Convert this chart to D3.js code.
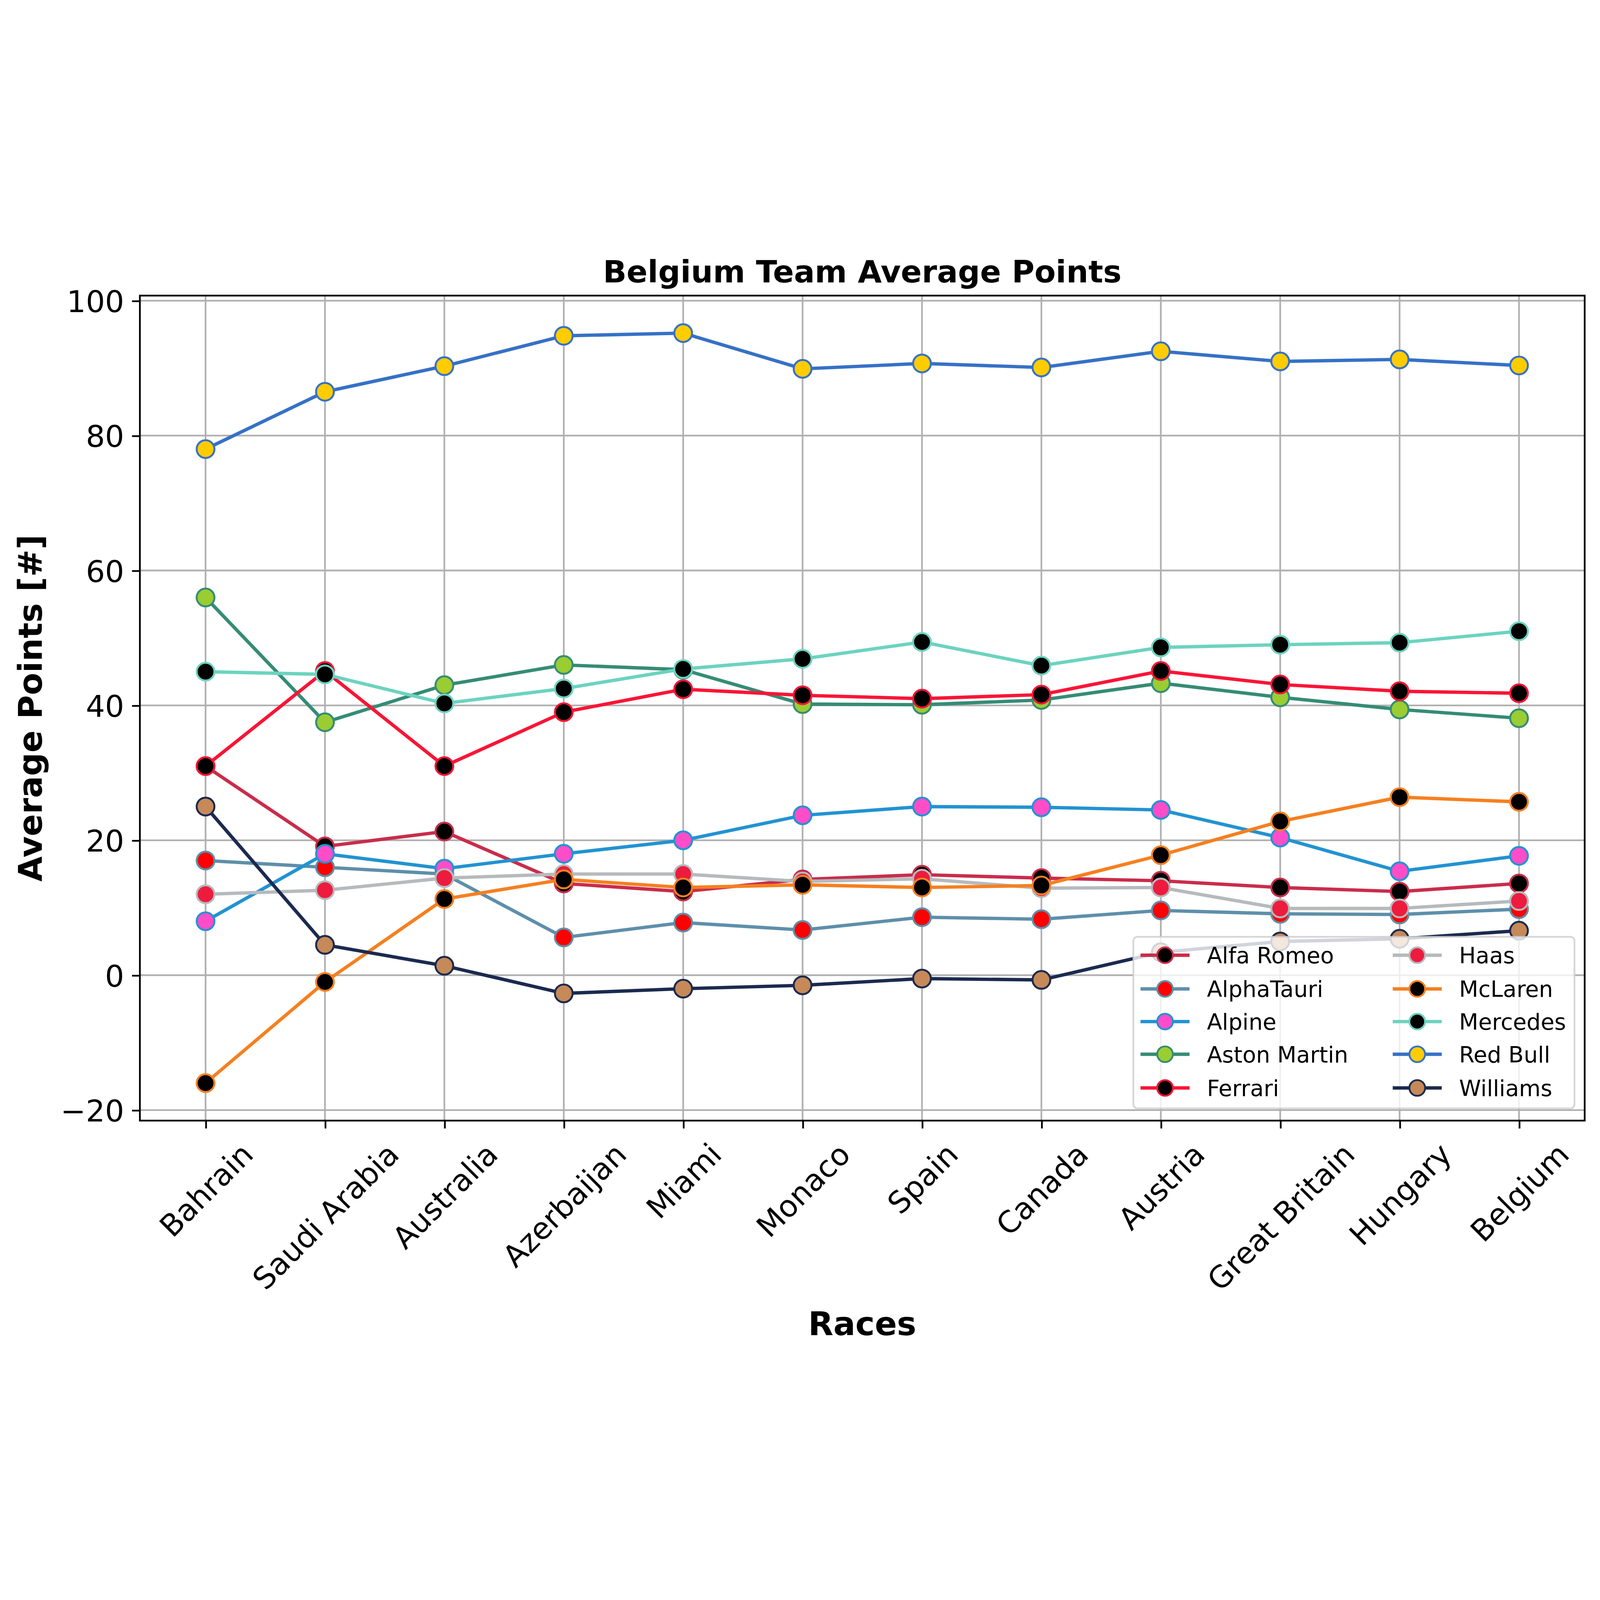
<!DOCTYPE html>
<html>
<head>
<meta charset="utf-8">
<script src="https://d3js.org/d3.v7.min.js"></script>
<style>
  html, body { margin: 0; padding: 0; background: #fff; width: 100%; height: 100%; overflow: hidden; }
  #chart { display: block; width: 100vw; height: 100vh; }
  text { font-family: 'DejaVu Sans', sans-serif; }
</style>
</head>
<body>
<svg id="chart"></svg>
<script>
// data
const races = ['Bahrain', 'Saudi Arabia', 'Australia', 'Azerbaijan', 'Miami', 'Monaco',
               'Spain', 'Canada', 'Austria', 'Great Britain', 'Hungary', 'Belgium'];
const teams = ['Alfa Romeo', 'AlphaTauri', 'Alpine', 'Aston Martin', 'Ferrari',
               'Haas', 'McLaren', 'Mercedes', 'Red Bull', 'Williams'];
const lineColors = ['#C92D4B', '#5E8FAA', '#2293D1', '#358C75', '#F91536',
                    '#B6BABD', '#F58020', '#6CD3BF', '#3671C6', '#1B2A4F'];
const fillColors = ['#000000', '#FF0000', '#FF4DC9', '#9ACD32', '#000000',
                    '#ED1C3E', '#000000', '#000000', '#FFCC00', '#C68958'];

const alfaRomeo   = [31.0, 19.1, 21.3, 13.6, 12.4, 14.2, 14.9, 14.4, 14.0, 13.0, 12.4, 13.6];
const alphaTauri  = [17.0, 16.0, 15.0, 5.6, 7.8, 6.7, 8.6, 8.3, 9.6, 9.1, 9.0, 9.8];
const alpine      = [8.0, 18.0, 15.8, 18.0, 20.0, 23.7, 25.0, 24.9, 24.5, 20.4, 15.4, 17.7];
const astonMartin = [56.0, 37.5, 43.0, 46.0, 45.3, 40.2, 40.1, 40.8, 43.3, 41.2, 39.4, 38.1];
const ferrari     = [31.0, 45.1, 31.0, 39.0, 42.4, 41.5, 41.0, 41.6, 45.1, 43.1, 42.1, 41.8];
const haas        = [12.0, 12.6, 14.4, 15.0, 15.0, 13.9, 14.3, 12.9, 13.0, 9.9, 9.9, 11.0];
const mcLaren     = [-16.0, -1.0, 11.3, 14.2, 13.0, 13.4, 13.0, 13.3, 17.8, 22.8, 26.4, 25.7];
const mercedes    = [45.0, 44.6, 40.3, 42.5, 45.4, 46.9, 49.4, 45.9, 48.6, 49.0, 49.3, 51.0];
const redBull     = [78.0, 86.5, 90.3, 94.8, 95.2, 89.9, 90.7, 90.1, 92.5, 91.0, 91.3, 90.4];
const williams    = [25.0, 4.5, 1.4, -2.7, -2.0, -1.5, -0.5, -0.7, 3.4, 5.0, 5.4, 6.6];

const yTicks = [-20, 0, 20, 40, 60, 80, 100];
const yDomain = [-21.56, 100.76];

const allValues = [alfaRomeo, alphaTauri, alpine, astonMartin, ferrari,
                   haas, mcLaren, mercedes, redBull, williams];
const series = teams.map((t, i) => ({
  name: t, values: allValues[i], line: lineColors[i], fill: fillColors[i]
}));

const W = 1567, H = 1092;
const m = { left: 137, right: 1552, top: 52, bottom: 860 };
const svg = d3.select('#chart').attr('viewBox', `0 0 ${W} ${H}`)
  .attr('preserveAspectRatio', 'xMidYMid meet');
svg.append('rect').attr('width', W).attr('height', H).attr('fill', '#fff');

const x = d3.scalePoint().domain(races).range([m.left, m.right]).padding(0.55);
const y = d3.scaleLinear().domain(yDomain).range([m.bottom, m.top]);

const tickFont = 29.5, lw = 1.7;

// grid
const grid = svg.append('g');
grid.selectAll('.vg').data(races).join('line')
  .attr('x1', d => x(d)).attr('x2', d => x(d))
  .attr('y1', m.top).attr('y2', m.bottom)
  .attr('stroke', '#b0b0b0').attr('stroke-width', 1.65);
grid.selectAll('.hg').data(yTicks).join('line')
  .attr('x1', m.left).attr('x2', m.right)
  .attr('y1', d => y(d)).attr('y2', d => y(d))
  .attr('stroke', '#b0b0b0').attr('stroke-width', 1.65);

// lines and markers, drawn in legend order
const line = d3.line().x((d, i) => x(races[i])).y(d => y(d));
series.forEach(s => {
  const g = svg.append('g');
  g.append('path').datum(s.values)
    .attr('d', line).attr('fill', 'none')
    .attr('stroke', s.line).attr('stroke-width', 3.3)
    .attr('stroke-linejoin', 'round').attr('stroke-linecap', 'square');
  g.selectAll('circle').data(s.values).join('circle')
    .attr('cx', (d, i) => x(races[i])).attr('cy', d => y(d))
    .attr('r', 8.7).attr('fill', s.fill)
    .attr('stroke', s.line).attr('stroke-width', 1.9);
});

// spines
svg.append('rect')
  .attr('x', m.left).attr('y', m.top)
  .attr('width', m.right - m.left).attr('height', m.bottom - m.top)
  .attr('fill', 'none').attr('stroke', '#000').attr('stroke-width', lw);

// y axis
const yAxis = svg.append('g').attr('transform', `translate(${m.left},0)`)
  .call(d3.axisLeft(y).tickValues(yTicks).tickSize(7.7).tickPadding(7.7));
yAxis.select('.domain').remove();
yAxis.selectAll('line').attr('stroke-width', lw);
yAxis.selectAll('text').attr('font-size', tickFont)
  .attr('font-family', "'DejaVu Sans', sans-serif").attr('fill', '#000')
  .attr('dy', '0.36em');

// x axis, labels rotated 45 degrees
const xAxis = svg.append('g').attr('transform', `translate(0,${m.bottom})`)
  .call(d3.axisBottom(x).tickSize(7.7).tickPadding(7.7));
xAxis.select('.domain').remove();
xAxis.selectAll('line').attr('stroke-width', lw);
xAxis.selectAll('text')
  .attr('font-size', tickFont).attr('font-family', "'DejaVu Sans', sans-serif")
  .attr('fill', '#000').attr('text-anchor', 'middle')
  .attr('dy', '0.36em')
  .each(function () {
    const w = this.getComputedTextLength();
    const h = tickFont * 1.16;
    const half = (w + h) / (2 * Math.SQRT2);
    const cy = 7.7 + 7.7 + half;
    d3.select(this).attr('y', cy).attr('x', 0)
      .attr('transform', `rotate(-45,0,${cy})`);
  });

// title and labels
svg.append('text').attr('x', (m.left + m.right) / 2).attr('y', 39)
  .attr('text-anchor', 'middle').attr('font-size', 30.3).attr('font-weight', 'bold')
  .text('Belgium Team Average Points');
svg.append('text').attr('x', (m.left + m.right) / 2).attr('y', 1070)
  .attr('text-anchor', 'middle').attr('font-size', 32).attr('font-weight', 'bold')
  .text('Races');
svg.append('text')
  .attr('transform', `translate(41,${(m.top + m.bottom) / 2}) rotate(-90)`)
  .attr('text-anchor', 'middle').attr('font-size', 32).attr('font-weight', 'bold')
  .text('Average Points [#]');

// legend
const lg = svg.append('g');
lg.append('rect').attr('x', 1110).attr('y', 680).attr('width', 432).attr('height', 168)
  .attr('rx', 4).attr('fill', '#fff').attr('fill-opacity', 0.8)
  .attr('stroke', '#cccccc').attr('stroke-opacity', 0.8).attr('stroke-width', lw);
const rowY = [698, 731, 763, 795, 828];
const colX = [1141, 1388];
series.forEach((s, i) => {
  const cx = colX[Math.floor(i / 5)], cy = rowY[i % 5];
  lg.append('line').attr('x1', cx - 24).attr('x2', cx + 24)
    .attr('y1', cy).attr('y2', cy)
    .attr('stroke', s.line).attr('stroke-width', 3.3);
  lg.append('circle').attr('cx', cx).attr('cy', cy).attr('r', 7.7)
    .attr('fill', s.fill).attr('stroke', s.line).attr('stroke-width', 1.8);
  lg.append('text').attr('x', cx + 41).attr('y', cy + 8)
    .attr('font-size', 21.8).text(s.name);
});
</script>
</body>
</html>
